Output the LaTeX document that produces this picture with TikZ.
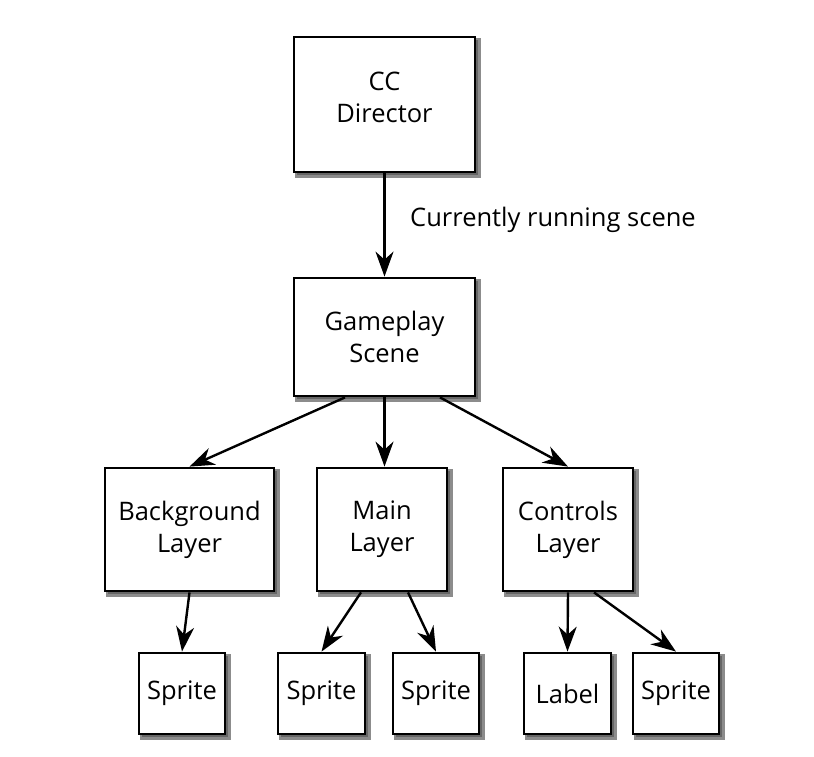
\documentclass[tikz,border=0pt]{standalone}
\usepackage{fontspec}
\setmainfont{Open Sans}
\usetikzlibrary{arrows.meta,calc}
\pgfdeclarelayer{paper}
\pgfdeclarelayer{shade}
\pgfsetlayers{paper,shade,main}
\tikzset{
  box/.style={draw=black, line width=2.8pt, fill=white, inner sep=0pt},
  shadowbox/.style={fill=black!60, draw=black!45, line width=2.4pt},
  txt/.style={align=center, inner sep=0pt, font=\fontsize{25.5}{32}\selectfont},
  arr/.style={line width=2.4pt, -{Stealth[length=25pt, width=18pt, inset=8pt]}},
}
\begin{document}
\begin{tikzpicture}[x=1pt, y=-1pt]
\begin{pgfonlayer}{paper}
\fill[white] (0,0) rectangle (814,756);
\end{pgfonlayer}
\useasboundingbox (0,0) rectangle (814,756);
% boxes
\node[box, minimum width=181pt, minimum height=135pt] (dir) at (384.5,104.5) {};
\node[txt] (dirtext) at (384.5,97.3) {CC\\Director};
\node[box, txt, minimum width=181pt, minimum height=118pt] (game) at (384.5,337) {Gameplay\\Scene};
\node[box, txt, minimum width=169pt, minimum height=123pt] (bg) at (189.5,529.5) {Background\\Layer};
\node[box, txt, minimum width=130pt, minimum height=123pt] (main) at (382,529.5) {Main\\Layer};
\node[box, txt, minimum width=130pt, minimum height=123pt] (ctrl) at (568,529.5) {Controls\\Layer};
\node[box, txt, minimum width=86pt, minimum height=81pt] (s1) at (182,693.5) {Sprite};
\node[box, txt, minimum width=87pt, minimum height=81pt] (s2) at (321.5,693.5) {Sprite};
\node[box, txt, minimum width=86pt, minimum height=81pt] (s3) at (436,693.5) {Sprite};
\node[box, txt, minimum width=87pt, minimum height=81pt] (lab) at (567.5,693.5) {Label};
\node[box, txt, minimum width=86pt, minimum height=81pt] (s5) at (676,693.5) {Sprite};
% shadows
\begin{pgfonlayer}{shade}
\foreach \n in {dir,game,bg,main,ctrl,s1,s2,s3,lab,s5}
  \draw[shadowbox] ($(\n.north west)+(3.2,3.2)$) rectangle ($(\n.south east)+(3.2,3.2)$);
\end{pgfonlayer}
% connectors
\draw[arr] (dir.south) -- (game.north);
\node[txt, anchor=base west] (run) at (410,226) {Currently running scene};
\draw[arr] ($(game.south)+(-39.5,0)$) -- (bg.north);
\draw[arr] (game.south) -- (game.south |- main.north);
\draw[arr] ($(game.south)+(55.5,0)$) -- (ctrl.north);
\draw[arr] (bg.south) -- (s1.north);
\draw[arr] ($(main.south)+(-21,0)$) -- (s2.north);
\draw[arr] ($(main.south)+(26,0)$) -- (s3.north);
\draw[arr] (ctrl.south) -- (lab.north);
\draw[arr] ($(ctrl.south)+(26,0)$) -- (s5.north);
\end{tikzpicture}
\end{document}
